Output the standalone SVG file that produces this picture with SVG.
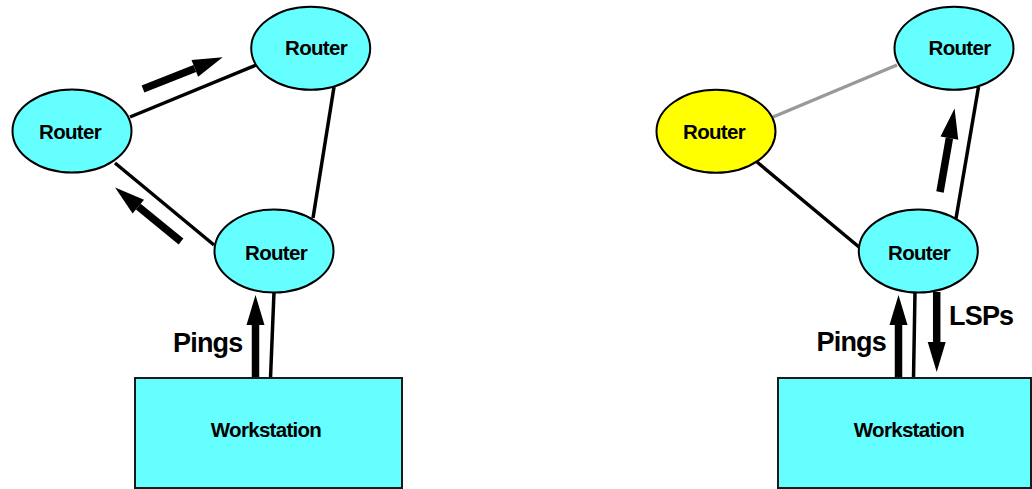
<svg xmlns="http://www.w3.org/2000/svg" width="1032" height="489" viewBox="0 0 1032 489">
  <style>
    .router { fill: #66ffff; stroke: #000; stroke-width: 2; }
    .down { fill: #ffff00; stroke: #000; stroke-width: 2; }
    .host { fill: #66ffff; stroke: #1a1a1a; stroke-width: 2; }
    .link { stroke: #000; stroke-width: 3.5; fill: none; }
    .dead { stroke: #999; stroke-width: 3.5; fill: none; }
    .flow { stroke: #000; stroke-width: 7.5; fill: none; marker-end: url(#head); }
    .lbl { font-family: "Liberation Sans", Arial, sans-serif; font-weight: bold; font-size: 20.5px; letter-spacing: -0.7px; text-anchor: middle; fill: #000; }
    .big { font-family: "Liberation Sans", Arial, sans-serif; font-weight: bold; font-size: 27px; letter-spacing: -0.8px; fill: #000; }
  </style>
  <defs>
    <marker id="head" markerUnits="userSpaceOnUse" markerWidth="30" markerHeight="18" refX="0" refY="9" orient="auto" overflow="visible">
      <path d="M0,0 L30,9 L0,18 Z" fill="#000"/>
    </marker>
  </defs>

  <rect width="1032" height="489" fill="#fff"/>

  <!-- links and traffic arrows -->
  <g id="connectors">
    <!-- left network -->
    <line class="link" x1="130" y1="117" x2="256" y2="65"/>
    <line class="link" x1="334" y1="87" x2="313" y2="218"/>
    <line class="link" x1="115" y1="163" x2="214" y2="245"/>
    <line class="link" x1="274" y1="292" x2="270.5" y2="378"/>
    <line class="flow" x1="143" y1="89" x2="194.8" y2="68.4"/>
    <line class="flow" x1="181" y1="241.5" x2="138.3" y2="206.6"/>
    <line class="flow" x1="255.5" y1="378" x2="255.5" y2="325"/>

    <!-- right network -->
    <line class="dead" x1="773" y1="117" x2="897" y2="65"/>
    <line class="link" x1="757" y1="162" x2="859" y2="247"/>
    <line class="link" x1="978.5" y1="87" x2="956" y2="218.5"/>
    <line class="link" x1="915" y1="292" x2="913.5" y2="378"/>
    <line class="flow" x1="940" y1="192" x2="949.4" y2="138.1"/>
    <line class="flow" x1="898.5" y1="378" x2="898.5" y2="325"/>
    <line class="flow" x1="936.7" y1="292" x2="936.7" y2="342"/>
  </g>

  <!-- left network nodes -->
  <g id="l-router-left">
    <ellipse class="router" cx="72" cy="131" rx="59.5" ry="41.5"/>
    <text class="lbl" x="70" y="138.5">Router</text>
  </g>
  <g id="l-router-top">
    <ellipse class="router" cx="310.7" cy="48.3" rx="59.5" ry="41.5"/>
    <text class="lbl" x="316" y="55">Router</text>
  </g>
  <g id="l-router-bottom">
    <ellipse class="router" cx="274" cy="251" rx="59.5" ry="41.5"/>
    <text class="lbl" x="276" y="259.5">Router</text>
  </g>
  <g id="l-workstation">
    <rect class="host" x="135" y="378" width="267" height="110"/>
    <text class="lbl" x="266" y="437">Workstation</text>
  </g>
  <text class="big" x="173" y="351.5">Pings</text>

  <!-- right network nodes -->
  <g id="r-router-left">
    <ellipse class="down" cx="716" cy="131.3" rx="59.5" ry="41.5"/>
    <text class="lbl" x="714" y="138.5">Router</text>
  </g>
  <g id="r-router-top">
    <ellipse class="router" cx="954" cy="48.3" rx="59.5" ry="41.5"/>
    <text class="lbl" x="959.5" y="55">Router</text>
  </g>
  <g id="r-router-bottom">
    <ellipse class="router" cx="918.3" cy="251" rx="59.5" ry="41.5"/>
    <text class="lbl" x="919" y="259.5">Router</text>
  </g>
  <g id="r-workstation">
    <rect class="host" x="778" y="378" width="253" height="110"/>
    <text class="lbl" x="909" y="437">Workstation</text>
  </g>
  <text class="big" x="816.5" y="351">Pings</text>
  <text class="big" x="949" y="325">LSPs</text>
</svg>
